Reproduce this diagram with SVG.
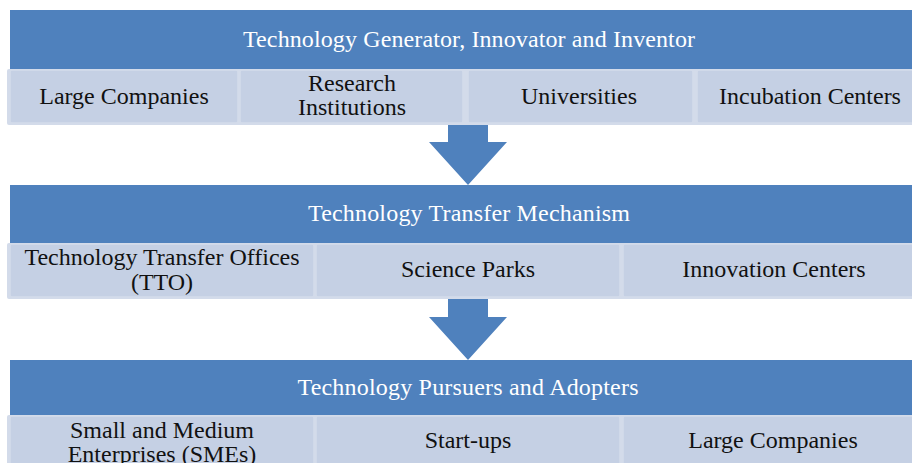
<svg xmlns="http://www.w3.org/2000/svg" width="912" height="463" viewBox="0 0 912 463">
<style>
.band{fill:#4f81bd;}
.row{fill:#d3dbea;}
.cell{fill:#c5d0e4;stroke:#d3dbea;stroke-width:1.5;}
.arrow{fill:#4f81bd;}
text{font-family:'Liberation Serif','Times New Roman',serif;font-size:24px;text-anchor:middle;}
.t{fill:#ffffff;}
.c{fill:#111111;}
</style>
<rect width="912" height="463" fill="#ffffff"/>
<g id="connectors">
<polygon class="arrow" points="448,124 488,124 488,142 507,142 468,185 429,142 448,142"/>
<polygon class="arrow" points="448,298 488,298 488,317 507,317 468,360 429,317 448,317"/>
</g>
<g id="level1">
<rect class="band" x="10" y="10" width="920" height="60"/>
<text class="t" x="469" y="47" textLength="452">Technology Generator, Innovator and Inventor</text>
<rect class="row" x="7" y="69" width="923" height="56" rx="2"/>
</g>
<g id="n-large-companies-1"><rect class="cell" x="10" y="70" width="228" height="53" rx="2"/><text class="c" x="124" y="104">Large Companies</text></g>
<g id="n-research"><rect class="cell" x="240" y="70" width="223" height="53" rx="2"/><text class="c" x="352" y="91">Research</text><text class="c" x="352" y="115">Institutions</text></g>
<g id="n-universities"><rect class="cell" x="468" y="70" width="225" height="53" rx="2"/><text class="c" x="579" y="104">Universities</text></g>
<g id="n-incubation"><rect class="cell" x="697" y="70" width="225" height="53" rx="2"/><text class="c" x="810" y="104">Incubation Centers</text></g>
<g id="level2">
<rect class="band" x="10" y="185" width="920" height="59"/>
<text class="t" x="469" y="221" textLength="322">Technology Transfer Mechanism</text>
<rect class="row" x="7" y="243" width="923" height="56" rx="2"/>
</g>
<g id="n-tto"><rect class="cell" x="10" y="244" width="304" height="53" rx="2"/><text class="c" x="162" y="265">Technology Transfer Offices</text><text class="c" x="162" y="290">(TTO)</text></g>
<g id="n-science-parks"><rect class="cell" x="316" y="244" width="304" height="53" rx="2"/><text class="c" x="468" y="277">Science Parks</text></g>
<g id="n-innovation"><rect class="cell" x="623" y="244" width="304" height="53" rx="2"/><text class="c" x="774" y="277">Innovation Centers</text></g>
<g id="level3">
<rect class="band" x="10" y="360" width="920" height="56"/>
<text class="t" x="468" y="395" textLength="341">Technology Pursuers and Adopters</text>
<rect class="row" x="7" y="415" width="923" height="56" rx="2"/>
</g>
<g id="n-smes"><rect class="cell" x="10" y="416" width="304" height="53" rx="2"/><text class="c" x="162" y="438">Small and Medium</text><text class="c" x="162" y="462">Enterprises (SMEs)</text></g>
<g id="n-startups"><rect class="cell" x="316" y="416" width="304" height="53" rx="2"/><text class="c" x="468" y="448">Start-ups</text></g>
<g id="n-large-companies-2"><rect class="cell" x="623" y="416" width="304" height="53" rx="2"/><text class="c" x="773" y="448">Large Companies</text></g>
</svg>
